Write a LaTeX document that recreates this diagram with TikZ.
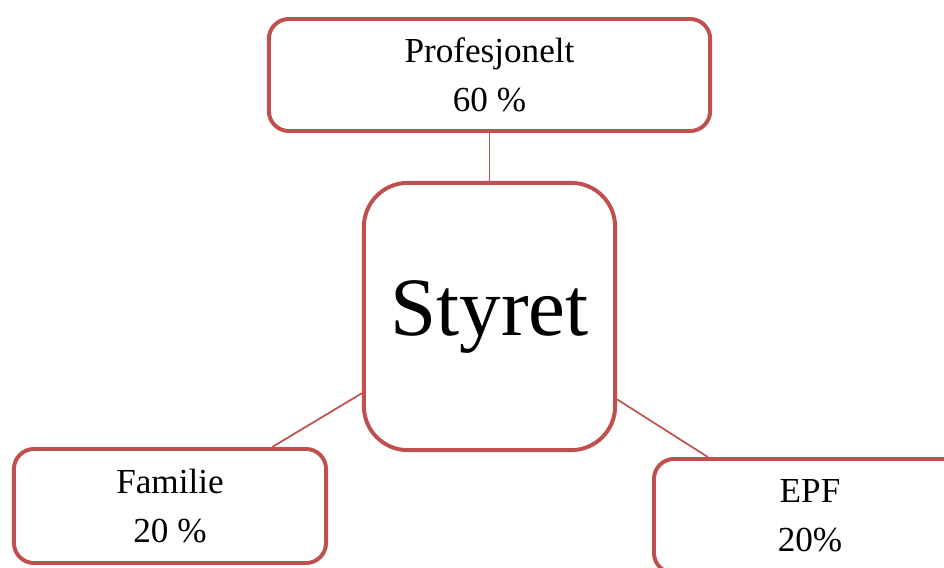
\documentclass[tikz,border=0pt]{standalone}
\usepackage{fontspec}
\setmainfont{Liberation Serif}
\definecolor{boardred}{HTML}{C0504D}
\usetikzlibrary{positioning}

\begin{document}
\begin{tikzpicture}[x=0.025cm, y=-0.025cm,
    owner/.style={draw=boardred, line width=2.8pt, rounded corners=0.5cm, fill=white,
        align=center, font=\fontsize{25}{35}\selectfont, inner sep=0pt},
    link/.style={draw=boardred, line width=1.2pt}]
    \clip (0,0) rectangle (944,567);
    \node[owner, minimum width=6.28cm, minimum height=6.68cm, rounded corners=1.1cm,
        font=\fontsize{59}{60}\selectfont] (styret) at (489.5,316.5) {Styret};
    \node[owner, minimum width=11.03cm, minimum height=2.8cm] (prof) at (489.5,75) {Profesjonelt\\60 \%};
    \node[owner, minimum width=7.8cm, minimum height=2.85cm] (fam) at (170,506) {Familie\\20 \%};
    \node[owner, minimum width=7.8cm, minimum height=2.85cm] (epf) at (810,516) {EPF\\20\%};
    % connectors
    \draw[link] (prof.south) -- (styret.north);
    \draw[link] (styret.211.6) -- (fam.30);
    \draw[link] (styret.327.4) -- (epf.150);
\end{tikzpicture}
\end{document}
